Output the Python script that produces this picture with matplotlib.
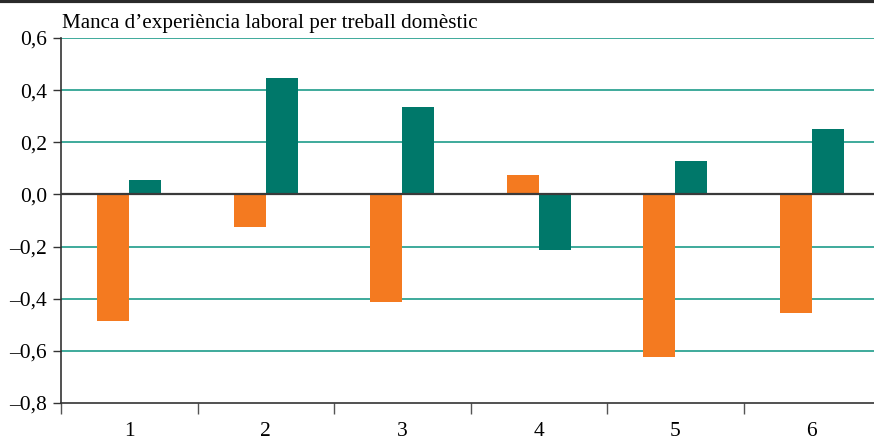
import matplotlib
matplotlib.use("Agg")
import matplotlib.pyplot as plt
from matplotlib.ticker import FixedLocator

categories = ["1", "2", "3", "4", "5", "6"]
series_orange = [-0.485, -0.125, -0.413, 0.075, -0.624, -0.455]
series_teal = [0.055, 0.447, 0.335, -0.213, 0.128, 0.251]
yticks = [0.6, 0.4, 0.2, 0.0, -0.2, -0.4, -0.6, -0.8]
ytick_labels = ["0,6", "0,4", "0,2", "0,0", "\u20130,2", "\u20130,4", "\u20130,6", "\u20130,8"]
title = "Manca d\u2019experiència laboral per treball domèstic"

plt.rcParams['font.family'] = ['Liberation Serif', 'DejaVu Serif']

W, H = 874, 440
fig = plt.figure(figsize=(W / 100, H / 100), dpi=100)
ax = fig.add_axes([61 / W, 37 / H, 1 - 61 / W, (403 - 38) / H])

orange = "#F47A20"
teal = "#00786A"
grid = "#1E9C8A"

x = list(range(1, len(categories) + 1))
bw = 0.235
ax.bar([v - bw / 2 for v in x], series_orange, width=bw, color=orange, zorder=3)
ax.bar([v + bw / 2 for v in x], series_teal, width=bw, color=teal, zorder=3)

ax.set_ylim(-0.8, 0.6)
ax.set_xlim(0.5, 0.5 + (W - 61) / 136.5)

for t in yticks:
    if t == 0.0:
        ax.axhline(0, color="#3a3a3a", lw=1.6, zorder=4)
    elif t > -0.8:
        ax.axhline(t, color=grid, lw=1.2, zorder=1)

ax.set_yticks(yticks)
ax.set_yticklabels(ytick_labels, fontsize=15.5)
ax.tick_params(axis="y", length=6, width=1, color="#333333", pad=4)

ax.set_xticks(x)
ax.set_xticklabels(categories, fontsize=15.5)
ax.tick_params(axis="x", which="major", length=0, pad=14)
ax.xaxis.set_minor_locator(FixedLocator([v + 0.5 for v in range(0, 6)]))
ax.tick_params(axis="x", which="minor", length=8, width=1, color="#555555")

for s in ["top", "right"]:
    ax.spines[s].set_visible(False)
ax.spines["left"].set_color("#333333")
ax.spines["bottom"].set_color("#333333")
ax.spines["left"].set_linewidth(1.2)
ax.spines["bottom"].set_linewidth(1.2)

fig.text(62 / W, 1 - 28 / H, title, fontsize=15.2, ha="left", va="baseline")
fig.add_artist(plt.Line2D([0, 1], [1 - 1.5 / H, 1 - 1.5 / H], color="#2a2a2a", lw=3, transform=fig.transFigure))

fig.savefig("out.png", dpi=100)
